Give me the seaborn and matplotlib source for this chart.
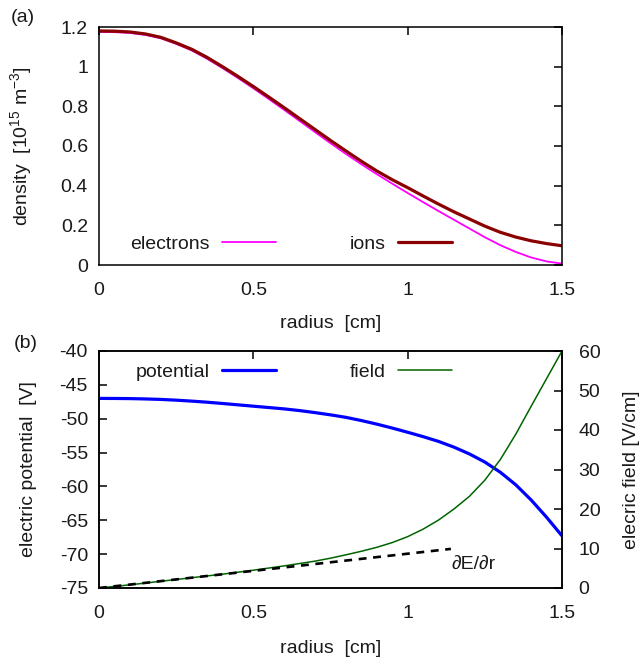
import numpy as np
import pandas as pd
import matplotlib
matplotlib.use("Agg")
import matplotlib.pyplot as plt
import seaborn as sns
from matplotlib.lines import Line2D

# ---------------- data ----------------
radius = [0.00, 0.05, 0.10, 0.15, 0.20, 0.25, 0.30, 0.35, 0.40, 0.45, 0.50,
          0.55, 0.60, 0.65, 0.70, 0.75, 0.80, 0.85, 0.90, 0.95, 1.00,
          1.05, 1.10, 1.15, 1.20, 1.25, 1.30, 1.35, 1.40, 1.45, 1.50]
ions = [1.180, 1.179, 1.175, 1.165, 1.148, 1.120, 1.088, 1.047, 1.000, 0.951, 0.900,
        0.847, 0.793, 0.738, 0.683, 0.628, 0.575, 0.523, 0.474, 0.430, 0.390,
        0.348, 0.307, 0.268, 0.232, 0.196, 0.165, 0.141, 0.122, 0.108, 0.097]
electrons = [1.175, 1.174, 1.170, 1.160, 1.143, 1.115, 1.082, 1.040, 0.993, 0.943, 0.891,
             0.837, 0.782, 0.726, 0.670, 0.614, 0.560, 0.508, 0.458, 0.410, 0.363,
             0.317, 0.272, 0.228, 0.184, 0.140, 0.100, 0.066, 0.038, 0.018, 0.007]
potential = [-47.00, -47.01, -47.03, -47.08, -47.15, -47.26, -47.40, -47.56, -47.75, -47.95, -48.15,
             -48.35, -48.55, -48.80, -49.10, -49.43, -49.80, -50.27, -50.80, -51.38, -52.00,
             -52.65, -53.35, -54.20, -55.20, -56.40, -57.90, -59.75, -62.00, -64.55, -67.30]
field = [0.0, 0.4, 0.8, 1.25, 1.7, 2.15, 2.6, 3.05, 3.5, 4.0, 4.5,
         5.05, 5.6, 6.2, 6.8, 7.55, 8.4, 9.3, 10.3, 11.5, 13.0,
         14.9, 17.2, 20.0, 23.2, 27.3, 32.5, 38.9, 46.0, 53.0, 60.0]
dEdr_r = [0.0, 1.14]
dEdr_val = [0.0, 9.9]

xticks = [0, 0.5, 1, 1.5]
xticklabels = ["0", "0.5", "1", "1.5"]
dens_ticks = [0, 0.2, 0.4, 0.6, 0.8, 1.0, 1.2]
dens_labels = ["0", "0.2", "0.4", "0.6", "0.8", "1", "1.2"]
pot_ticks = [-75, -70, -65, -60, -55, -50, -45, -40]
field_ticks = [0, 10, 20, 30, 40, 50, 60]

df = pd.DataFrame({"radius": radius, "ions": ions, "electrons": electrons,
                   "potential": potential, "field": field})
df_d = pd.DataFrame({"radius": dEdr_r, "dEdr": dEdr_val})

# ---------------- style ----------------
sns.set_style("white")
plt.rcParams["font.family"] = ["Liberation Sans", "DejaVu Sans"]
plt.rcParams["mathtext.fontset"] = "custom"
plt.rcParams["mathtext.rm"] = "Liberation Sans"
plt.rcParams["mathtext.default"] = "regular"
plt.rcParams["axes.unicode_minus"] = False
plt.rcParams["axes.edgecolor"] = "black"
plt.rcParams["axes.linewidth"] = 1.1

FS = 14
TXT = "#1a1a1a"
fig = plt.figure(figsize=(6.43, 6.59), dpi=100)
W, H = 643, 659
def rect(l, t, r, b):
    return [l / W, 1 - b / H, (r - l) / W, (b - t) / H]

ax1 = fig.add_axes(rect(99, 27, 562, 265))
ax2 = fig.add_axes(rect(99, 351, 562, 588))
ax3 = ax2.twinx()

tick_kw = dict(direction="in", length=6, width=1.1, labelsize=FS, color="black", labelcolor=TXT)

# ---------------- panel (a) ----------------
sns.lineplot(data=df, x="radius", y="electrons", ax=ax1, color="#ff00ff", lw=1.3, sort=False)
sns.lineplot(data=df, x="radius", y="ions", ax=ax1, color="#8b0000", lw=2.3, sort=False)
ax1.set_xlim(0, 1.5)
ax1.set_ylim(0, 1.2)
ax1.set_xticks(xticks)
ax1.set_xticklabels(xticklabels)
ax1.set_yticks(dens_ticks)
ax1.set_yticklabels(dens_labels)
ax1.tick_params(axis="both", top=True, right=True, **tick_kw)
ax1.tick_params(axis="y", pad=8)
ax1.tick_params(axis="x", pad=12)
ax1.set_xlabel("radius  [cm]", fontsize=FS, labelpad=12, color=TXT)
ax1.set_ylabel(r"density  [$10^{15}$ m$^{-3}$]", fontsize=FS, labelpad=19, color=TXT)

h_e = Line2D([], [], color="#ff00ff", lw=1.3)
h_i = Line2D([], [], color="#8b0000", lw=2.3)
leg_kw = dict(frameon=False, markerfirst=False, fontsize=FS, handlelength=2.78,
              handletextpad=0.62, borderpad=0, borderaxespad=0, loc="center right",
              labelcolor=TXT)
leg1 = ax1.legend([h_e], ["electrons"], bbox_to_anchor=(0.382, 0.088), **leg_kw)
ax1.add_artist(leg1)
ax1.legend([h_i], ["ions"], bbox_to_anchor=(0.762, 0.088), **leg_kw)

# ---------------- panel (b) ----------------
sns.lineplot(data=df, x="radius", y="potential", ax=ax2, color="#0000ff", lw=2.3, sort=False)
sns.lineplot(data=df, x="radius", y="field", ax=ax3, color="#006400", lw=1.1, sort=False)
sns.lineplot(data=df_d, x="radius", y="dEdr", ax=ax3, color="black", lw=1.9,
             linestyle=(0, (3, 2.5)), sort=False)
ax2.set_xlim(0, 1.5)
ax2.set_ylim(-75, -40)
ax3.set_ylim(0, 60)
ax2.set_xticks(xticks)
ax2.set_xticklabels(xticklabels)
ax2.set_yticks(pot_ticks)
ax3.set_yticks(field_ticks)
ax2.tick_params(axis="x", top=True, pad=12, **tick_kw)
ax2.tick_params(axis="y", left=True, right=False, pad=8, **tick_kw)
ax3.tick_params(axis="y", left=False, right=True, pad=12, **tick_kw)
ax2.set_xlabel("radius  [cm]", fontsize=FS, labelpad=13, color=TXT)
ax2.set_ylabel("electric potential  [V]", fontsize=FS, labelpad=16, color=TXT)
ax3.set_ylabel("elecric field [V/cm]", fontsize=FS, labelpad=16, color=TXT)

ax3.text(1.143, 6.1, "\u2202E/\u2202r", fontsize=FS, ha="left", va="center", color=TXT)

h_p = Line2D([], [], color="#0000ff", lw=2.3)
h_f = Line2D([], [], color="#006400", lw=1.1)
leg2 = ax3.legend([h_p], ["potential"], bbox_to_anchor=(0.382, 0.911), **leg_kw)
ax3.add_artist(leg2)
ax3.legend([h_f], ["field"], bbox_to_anchor=(0.762, 0.911), **leg_kw)

for a in (ax1, ax2, ax3):
    for s in a.spines.values():
        s.set_color("black")
        s.set_linewidth(1.1)

fig.text(11 / W, 1 - 18 / H, "(a)", fontsize=FS, va="center", ha="left", color=TXT)
fig.text(14 / W, 1 - 343 / H, "(b)", fontsize=FS, va="center", ha="left", color=TXT)

fig.savefig("out.png", dpi=100)
